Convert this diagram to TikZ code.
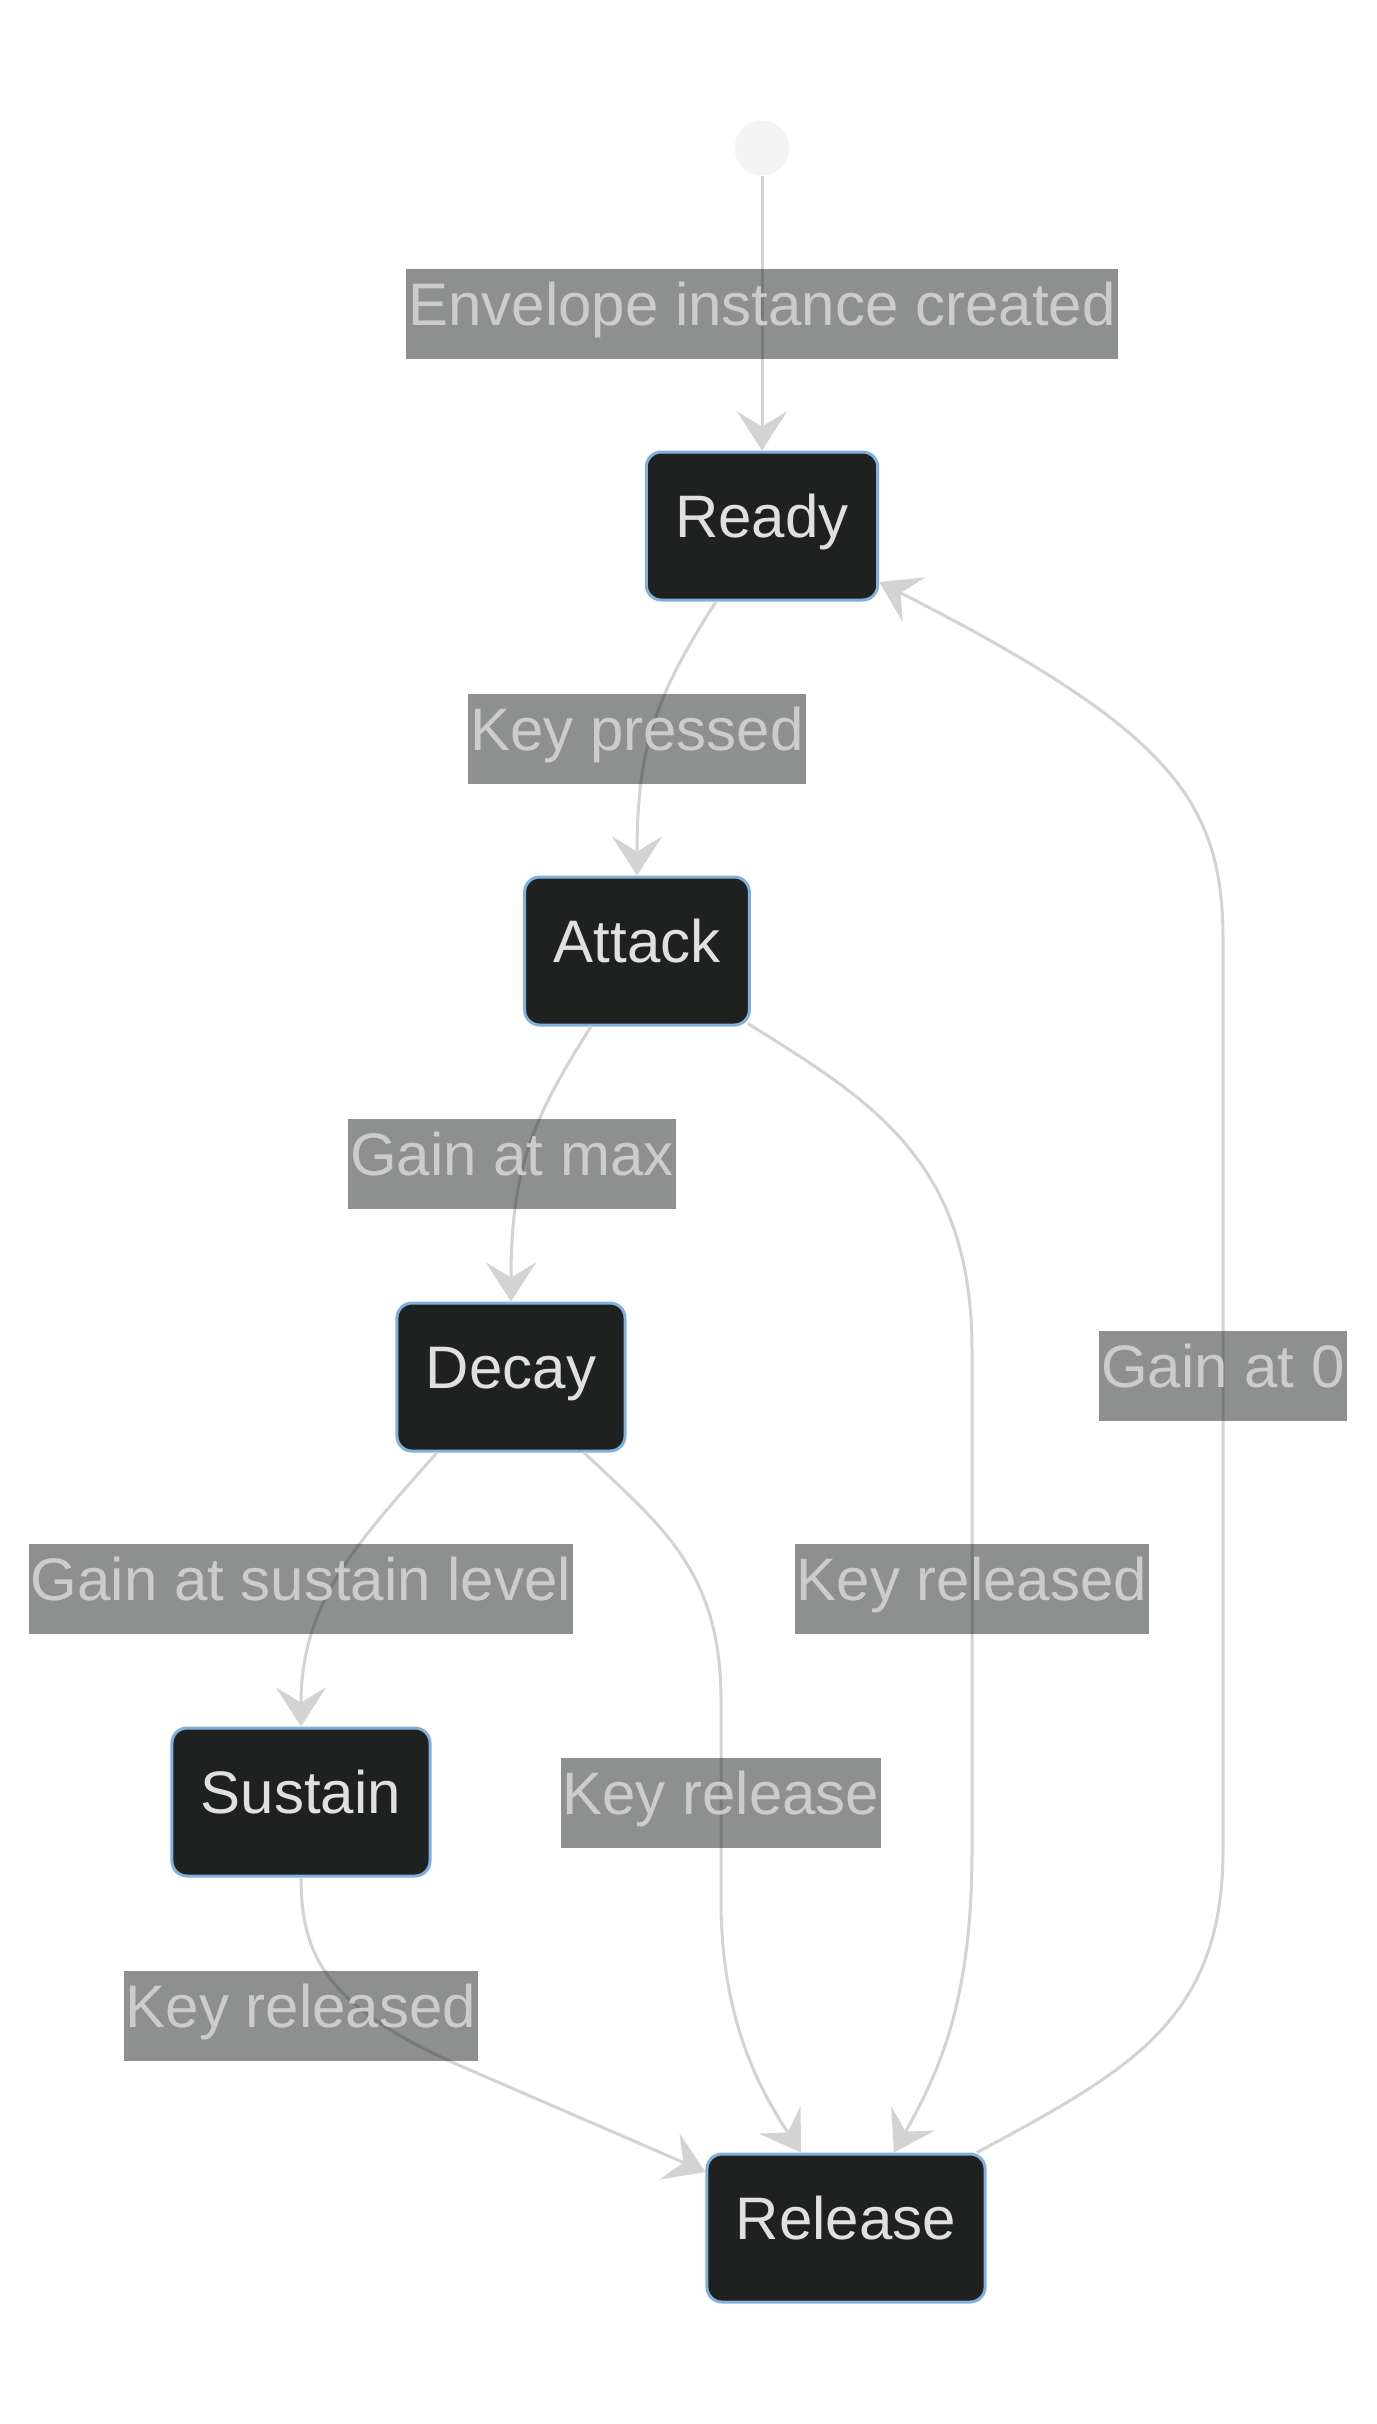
\documentclass[tikz,border=0pt]{standalone}
\usepackage{fontspec}
\setmainfont{Liberation Sans}
\usetikzlibrary{arrows.meta,calc}
\definecolor{statefill}{HTML}{1F2020}
\definecolor{stateborder}{HTML}{81B1DB}
\definecolor{statetext}{HTML}{E0E0E0}
\definecolor{edgecolor}{HTML}{D3D3D3}
\definecolor{labelfill}{HTML}{1F2020}
\definecolor{labeltext}{HTML}{CCCCCC}
\definecolor{startfill}{HTML}{F4F4F4}
\begin{document}
\begin{tikzpicture}[x=1pt,y=-1pt,
  every node/.style={font=\fontsize{60}{72}\selectfont},
  statebox/.style={draw=stateborder, line width=3pt, fill=statefill, text=statetext,
    rounded corners=15pt, inner xsep=29pt, inner ysep=0pt, minimum height=148pt,
    text height=43pt, text depth=20pt},
  edgelabel/.style={fill=labelfill, fill opacity=0.5, text opacity=1, text=labeltext,
    inner xsep=2pt, inner ysep=0pt, minimum height=90pt, text height=43pt, text depth=20pt},
  trans/.style={draw=edgecolor, line width=3pt,
    -{Stealth[length=39pt 0,width=50pt 0,inset=15pt 0]}}]
\path[use as bounding box, fill=white] (0,0) rectangle (1376,2424);

% states
\node[circle, fill=startfill, minimum size=55pt, inner sep=0pt] (start) at (762,148) {};
\node[statebox] (ready) at (762,526) {Ready};
\node[statebox] (attack) at (637,951) {Attack};
\node[statebox] (decay) at (511,1377) {Decay};
\node[statebox] (sustain) at (301,1802) {Sustain};
\node[statebox] (release) at (846,2228) {Release};

% transitions
\draw[trans] (start) -- (ready.north);
\draw[trans] ($(ready.south)+(-46,0)$) .. controls (660,690) and (637,740) .. (attack.north);
\draw[trans] ($(attack.south)+(-46,0)$) .. controls (535,1115) and (511,1165) .. (decay.north);
\draw[trans] ($(attack.south east)+(-3,-3)$) .. controls (870,1100) and (972,1160) .. (972,1350)
  -- (972,1850) .. controls (972,2000) and (940,2070) .. ($(release.north)+(48,0)$);
\draw[trans] ($(decay.south)+(-74,0)$) .. controls (360,1540) and (301,1600) .. (sustain.north);
\draw[trans] ($(decay.south)+(73,0)$) .. controls (660,1525) and (721,1570) .. (721,1700)
  -- (721,1900) .. controls (721,2020) and (760,2090) .. ($(release.north)+(-45,0)$);
\draw[trans] (sustain.south) .. controls (301,1960) and (330,2010) .. (470,2070)
  -- ($(release.west)+(0,-56)$);
\draw[trans] ($(release.north)+(131,0)$) .. controls (1130,2070) and (1223,2020) .. (1223,1850)
  -- (1223,940) .. controls (1223,800) and (1170,730) .. ($(ready.east)+(0,56)$);

% labels
\node[edgelabel] (l1) at (762,314) {Envelope instance created};
\node[edgelabel] (l2) at (637,739) {Key pressed};
\node[edgelabel] (l3) at (512,1164) {Gain at max};
\node[edgelabel] (l4) at (301,1589) {Gain at sustain level};
\node[edgelabel] (l5) at (972,1589) {Key released};
\node[edgelabel] (l6) at (721,1803) {Key release};
\node[edgelabel] (l7) at (301,2016) {Key released};
\node[edgelabel] (l8) at (1223,1376) {Gain at 0};
\end{tikzpicture}
\end{document}
